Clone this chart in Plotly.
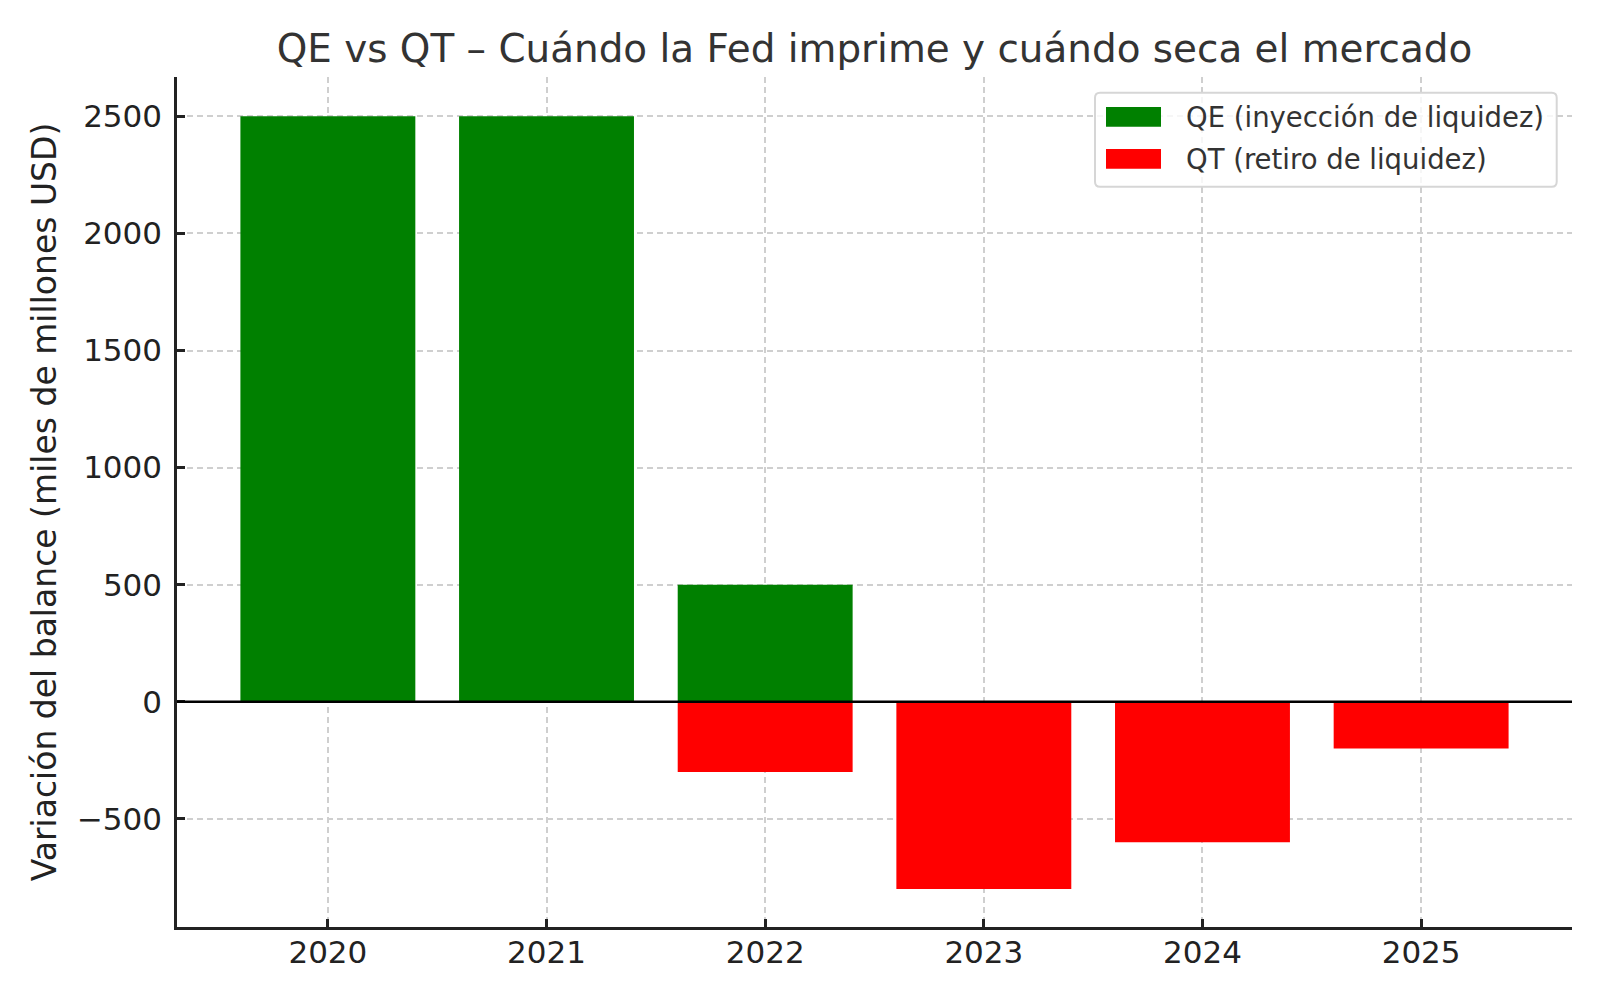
import plotly.graph_objects as go

years = ["2020", "2021", "2022", "2023", "2024", "2025"]
qe_values = [2500, 2500, 500, 0, 0, 0]
qt_values = [0, 0, -300, -800, -600, -200]
y_ticks = [-500, 0, 500, 1000, 1500, 2000, 2500]
y_tick_labels = ["−500", "0", "500", "1000", "1500", "2000", "2500"]
qe_name = "QE (inyección de liquidez)"
qt_name = "QT (retiro de liquidez)"
qe_color = "#008000"
qt_color = "#ff0000"

FONT = "DejaVu Sans"
W, H = 1600, 1000
ML, MR, MT, MB = 177, 28, 77, 73
PW, PH = W - ML - MR, H - MT - MB


def px(X):
    return (X - ML) / PW


def py(Y):
    return (H - MB - Y) / PH


x_idx = list(range(len(years)))

fig = go.Figure()
fig.add_trace(go.Bar(x=x_idx, y=qe_values, name=qe_name,
                     marker=dict(color=qe_color, line=dict(width=0)), width=0.8))
fig.add_trace(go.Bar(x=x_idx, y=qt_values, name=qt_name,
                     marker=dict(color=qt_color, line=dict(width=0)), width=0.8))

# zero reference line drawn above bars
fig.add_shape(type="line", xref="paper", yref="y", x0=0, x1=1, y0=0, y1=0,
              line=dict(color="#000000", width=2.5), layer="above")

# custom matplotlib-style legend
bx0, bx1, by0, by1, r = 1095, 1556.7, 92.7, 186.7, 5
path = (f"M {px(bx0 + r)},{py(by0)} L {px(bx1 - r)},{py(by0)} "
        f"Q {px(bx1)},{py(by0)} {px(bx1)},{py(by0 + r)} "
        f"L {px(bx1)},{py(by1 - r)} Q {px(bx1)},{py(by1)} {px(bx1 - r)},{py(by1)} "
        f"L {px(bx0 + r)},{py(by1)} Q {px(bx0)},{py(by1)} {px(bx0)},{py(by1 - r)} "
        f"L {px(bx0)},{py(by0 + r)} Q {px(bx0)},{py(by0)} {px(bx0 + r)},{py(by0)} Z")
fig.add_shape(type="path", xref="paper", yref="paper", path=path,
              fillcolor="rgba(255,255,255,0.8)", line=dict(color="#d6d6d6", width=2),
              layer="above")
for name, color, yc in [(qe_name, qe_color, 116.9), (qt_name, qt_color, 158.9)]:
    fig.add_shape(type="rect", xref="paper", yref="paper",
                  x0=px(1106), x1=px(1161), y0=py(yc - 9.8), y1=py(yc + 9.8),
                  fillcolor=color, line=dict(width=0), layer="above")
    fig.add_annotation(xref="paper", yref="paper", x=px(1184), y=py(yc),
                       xanchor="left", yanchor="middle", showarrow=False, text=name,
                       font=dict(family=FONT, size=27.5, color="#333333"))

fig.update_layout(
    width=W, height=H,
    barmode="relative",
    plot_bgcolor="white", paper_bgcolor="white",
    font=dict(family=FONT, color="#222222"),
    margin=dict(l=ML, r=MR, t=MT, b=MB, autoexpand=False),
    title=dict(text="QE vs QT – Cuándo la Fed imprime y cuándo seca el mercado",
               xref="paper", x=0.5, xanchor="center",
               yref="container", y=1 - 48 / H, yanchor="middle",
               font=dict(family=FONT, size=38.9, color="#333333")),
    showlegend=False,
)

fig.update_xaxes(
    tickmode="array", tickvals=x_idx, ticktext=years,
    range=[-0.69, 5.69],
    showgrid=True, gridcolor="#cfcfcf", griddash="6px,4px", gridwidth=1.5,
    showline=True, linecolor="#222222", linewidth=2.5,
    ticks="inside", ticklen=8, tickwidth=2.5, tickcolor="#222222",
    ticklabelstandoff=-4,
    tickfont=dict(family=FONT, size=31, color="#222222"),
    zeroline=False, mirror=False,
)
fig.update_yaxes(
    tickmode="array", tickvals=y_ticks, ticktext=y_tick_labels,
    range=[-962, 2668],
    showgrid=True, gridcolor="#cfcfcf", griddash="6px,4px", gridwidth=1.5,
    showline=True, linecolor="#222222", linewidth=2.5,
    ticks="inside", ticklen=8, tickwidth=2.5, tickcolor="#222222",
    ticklabelstandoff=6,
    tickfont=dict(family=FONT, size=31, color="#222222"),
    zeroline=False,
    title=dict(text="Variación del balance (miles de millones USD)",
               font=dict(family=FONT, size=33, color="#222222"), standoff=11),
    mirror=False,
)

fig.write_html("out.html",
               config={"displayModeBar": False},
               post_script="document.body.style.margin='0';document.body.style.padding='0';")
